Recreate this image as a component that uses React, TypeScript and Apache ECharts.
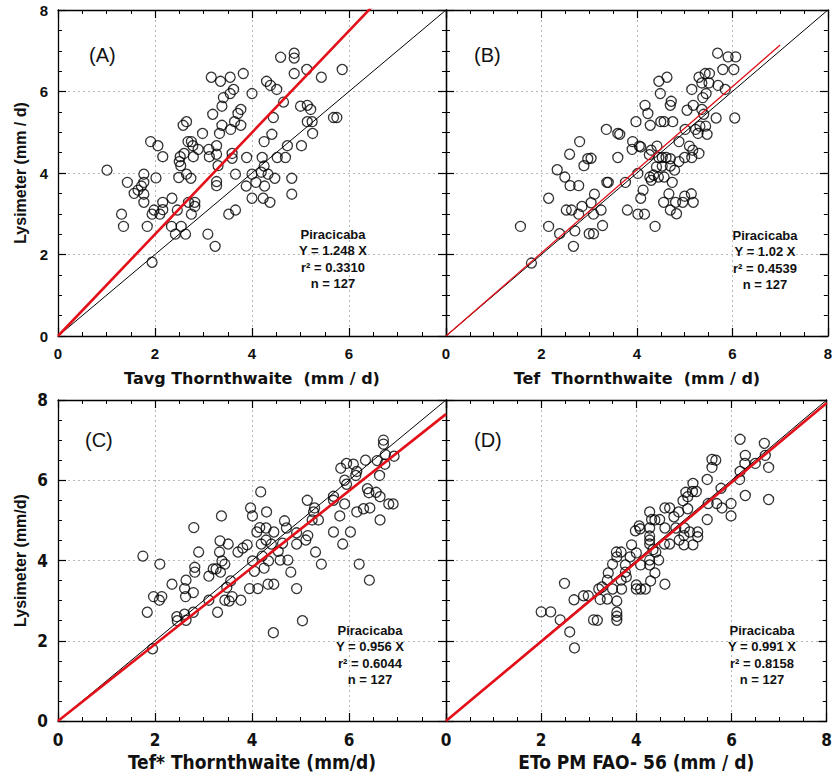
import React, { useEffect, useRef } from 'react';
import * as echarts from 'echarts';

// ---------- data ----------
const pointsA: [number, number][] = [
  [1.01,4.07],[1.43,3.77],[1.31,2.99],[1.35,2.69],[1.57,3.50],[1.65,3.58],[1.72,3.68],[1.77,3.97],[1.77,3.77],[1.77,3.48],
  [1.77,3.28],[1.91,4.77],[2.06,4.67],[2.02,3.88],[2.16,4.40],[1.84,2.69],[1.94,1.81],[1.98,3.09],[1.94,2.99],[2.10,2.99],
  [2.16,3.28],[2.16,3.10],[2.35,3.38],[2.34,2.69],[2.42,2.50],[2.46,3.09],[2.49,3.89],[2.50,4.28],[2.53,4.18],[2.52,4.40],
  [2.58,5.17],[2.65,5.26],[2.60,4.48],[2.65,3.97],[2.74,3.87],[2.68,4.77],[2.75,4.77],[2.78,4.67],[2.79,4.40],[2.89,4.58],
  [2.54,2.69],[2.63,2.50],[2.69,3.28],[2.82,3.28],[2.82,3.18],[2.75,2.99],[2.98,4.97],[3.11,4.58],[3.12,4.40],[3.16,6.35],
  [3.19,5.44],[3.27,4.67],[3.27,4.46],[3.30,4.18],[3.27,3.79],[3.27,3.69],[3.09,2.50],[3.24,2.20],[3.35,6.25],[3.41,5.85],
  [3.38,5.64],[3.38,5.17],[3.33,4.97],[3.55,6.35],[3.55,5.95],[3.62,6.05],[3.71,5.46],[3.77,5.56],[3.64,5.26],[3.56,5.07],
  [3.59,4.48],[3.59,4.36],[3.66,3.97],[3.52,2.99],[3.66,3.09],[3.82,6.44],[3.77,5.17],[3.89,4.38],[3.88,3.68],[4.00,5.95],
  [4.00,3.97],[4.00,3.38],[4.08,3.77],[4.21,4.38],[4.19,4.02],[4.25,4.17],[4.25,4.77],[4.23,3.38],[4.26,3.68],[4.30,6.25],
  [4.38,6.15],[4.51,6.05],[4.41,4.95],[4.44,5.36],[4.33,3.97],[4.37,3.28],[4.47,3.87],[4.52,4.38],[4.65,5.74],[4.59,6.84],
  [4.69,4.38],[4.73,4.67],[4.82,3.87],[4.82,3.48],[4.87,6.94],[4.87,6.82],[4.87,6.44],[5.02,4.67],[5.00,5.64],[5.13,6.54],
  [5.14,5.66],[5.21,5.56],[5.14,5.26],[5.24,5.26],[5.25,4.97],[5.43,6.35],[5.68,5.36],[5.75,5.36],[5.86,6.54]
];

const pointsB: [number, number][] = [
  [5.69,6.94],[5.91,6.85],[6.07,6.85],[5.80,6.54],[6.03,6.54],[5.30,6.35],[5.43,6.44],[5.52,6.44],[5.36,6.21],[5.51,6.21],
  [5.70,6.15],[5.85,6.05],[5.15,6.05],[5.45,5.95],[5.38,5.85],[4.63,6.35],[4.46,6.25],[4.49,5.95],[4.72,5.76],[4.70,5.66],
  [4.17,5.66],[4.23,5.46],[5.05,5.54],[5.18,5.66],[5.36,5.56],[5.40,5.44],[3.98,5.26],[4.50,5.26],[4.57,5.26],[4.75,5.26],
  [5.66,5.35],[6.05,5.35],[3.36,5.07],[3.60,4.97],[3.64,4.95],[4.28,5.17],[5.01,5.07],[5.23,5.07],[5.32,5.15],[5.44,5.15],
  [5.28,4.97],[5.47,4.95],[2.80,4.77],[3.91,4.77],[3.90,4.58],[4.05,4.66],[4.08,4.64],[4.30,4.56],[4.26,4.45],[4.42,4.66],
  [4.88,4.77],[5.10,4.66],[5.17,4.56],[5.30,4.48],[2.59,4.46],[2.97,4.35],[3.04,4.36],[2.89,4.18],[3.60,4.38],[4.46,4.38],
  [4.53,4.38],[4.61,4.38],[4.70,4.35],[5.00,4.38],[5.15,4.38],[4.41,4.15],[4.53,4.17],[4.70,4.17],[4.88,4.28],[4.79,4.07],
  [2.33,4.08],[2.49,3.90],[2.60,3.69],[2.78,3.69],[3.37,3.77],[3.40,3.77],[3.76,3.77],[4.02,3.99],[4.27,3.90],[4.35,3.95],
  [4.30,3.82],[4.45,3.90],[4.57,3.90],[4.74,3.77],[4.13,3.58],[4.08,3.38],[4.67,3.49],[4.56,3.28],[4.81,3.28],[4.96,3.28],
  [5.14,3.49],[5.18,3.28],[5.00,3.43],[4.70,3.09],[4.83,3.00],[3.11,3.48],[3.04,3.27],[2.85,3.18],[3.25,3.09],[3.09,2.99],
  [2.52,3.09],[2.63,3.09],[2.78,2.99],[3.80,3.09],[4.02,2.99],[4.16,2.99],[4.38,2.69],[3.28,2.71],[3.00,2.51],[3.09,2.51],
  [2.70,2.58],[2.38,2.51],[2.67,2.20],[1.56,2.69],[1.79,1.79],[2.15,2.69],[2.15,3.38]
];

const pointsC: [number, number][] = [
  [1.75,4.11],[2.10,3.91],[1.84,2.71],[1.97,3.10],[2.14,3.10],[2.09,3.01],[1.95,1.80],[2.35,3.41],[2.45,2.60],[2.46,2.50],
  [2.61,2.66],[2.64,2.51],[2.61,3.30],[2.64,3.51],[2.63,3.10],[2.79,3.20],[2.79,2.71],[2.80,4.82],[2.82,3.83],[2.82,3.71],
  [2.90,4.21],[3.11,3.61],[3.11,3.01],[3.20,3.79],[3.26,3.79],[3.35,3.71],[3.37,5.11],[3.29,2.71],[3.33,4.21],[3.34,4.49],
  [3.38,3.99],[3.44,3.91],[3.44,3.01],[3.51,4.41],[3.56,3.49],[3.48,3.33],[3.59,3.10],[3.53,2.99],[3.77,3.01],[3.71,4.21],
  [3.81,4.31],[3.90,4.39],[3.97,5.31],[4.01,5.11],[4.01,3.99],[3.95,3.30],[4.10,4.71],[4.05,3.73],[4.12,3.30],[4.16,4.82],
  [4.18,5.71],[4.19,4.41],[4.21,4.11],[4.25,3.81],[4.30,5.21],[4.29,4.81],[4.29,4.51],[4.34,3.99],[4.33,3.41],[4.45,4.71],
  [4.40,4.41],[4.45,3.41],[4.44,2.20],[4.54,4.23],[4.58,4.01],[4.63,4.43],[4.67,4.99],[4.71,4.81],[4.74,4.01],[4.80,3.71],
  [4.92,4.41],[4.92,4.69],[4.92,3.30],[5.04,2.50],
  [6.71,7.00],[6.71,6.90],[6.75,6.64],[6.93,6.60],[6.58,6.49],[6.74,6.40],[6.34,6.50],[6.09,6.40],[5.95,6.42],[5.83,6.30],
  [6.16,6.22],[6.14,6.12],[5.91,6.00],[5.95,5.90],[6.63,6.12],[6.38,5.79],[6.41,5.69],[6.56,5.70],[6.64,5.59],[6.82,5.41],
  [6.91,5.41],[6.30,5.29],[6.43,5.31],[6.16,5.21],[6.64,5.01],[5.68,5.60],[5.68,5.50],[5.91,5.41],[5.81,5.11],[5.14,5.50],
  [5.29,5.31],[5.27,5.21],[5.24,5.01],[5.37,5.01],[5.15,4.62],[5.11,4.51],[5.68,4.71],[6.03,4.71],[5.87,4.41],[5.31,4.21],
  [5.43,3.91],[6.21,3.91],[6.42,3.51]
];

const pointsD: [number, number][] = [
  [6.18,7.02],[6.69,6.92],[6.29,6.62],[6.71,6.62],[6.28,6.42],[6.50,6.42],[6.78,6.32],[6.18,6.22],[6.17,6.02],[6.29,5.62],
  [6.78,5.52],[5.59,6.52],[5.67,6.50],[5.59,6.32],[5.49,6.02],[5.78,5.80],[5.19,5.92],[5.04,5.70],[5.18,5.72],[5.26,5.72],
  [5.08,5.59],[4.98,5.49],[5.08,5.29],[4.89,5.21],[5.51,5.42],[5.69,5.42],[5.80,5.31],[5.99,5.42],[5.99,5.11],[5.49,5.02],
  [4.60,5.31],[4.70,5.31],[4.79,5.09],[4.49,5.02],[4.28,5.21],[4.32,5.02],[4.39,5.01],[4.08,4.79],[4.28,4.81],[4.60,4.81],
  [4.83,4.81],[5.01,4.81],[5.12,4.71],[5.29,4.71],[5.29,4.59],[5.00,4.62],[4.90,4.51],[5.00,4.39],[5.19,4.39],[4.70,4.41],
  [4.59,4.41],[4.28,4.61],[4.28,4.51],[4.28,4.41],[4.35,4.27],[4.41,4.21],[3.90,4.39],[4.00,4.19],[3.58,4.21],[3.68,4.21],
  [3.59,4.09],[3.50,3.91],[3.87,4.09],[4.09,3.89],[4.28,4.01],[4.28,3.89],[4.47,4.01],[4.39,3.69],[3.77,3.89],[3.77,3.71],
  [3.79,3.59],[3.68,3.51],[3.41,3.69],[3.39,3.51],[3.50,3.29],[3.69,3.29],[3.28,3.34],[3.21,3.29],[4.00,3.39],[4.00,3.29],
  [4.09,3.29],[4.19,3.29],[4.30,3.49],[4.60,3.41],[3.24,3.03],[3.39,3.04],[3.59,2.99],[3.59,2.71],[3.59,2.61],[3.59,2.51],
  [3.18,2.51],[2.00,2.72],[2.20,2.72],[2.40,2.52],[2.60,2.22],[2.70,1.82],[2.49,3.43],[2.69,3.02],[2.89,3.12],[2.99,3.12],
  [3.10,2.52],[3.98,4.74],[4.06,4.86]
];

const panelPoints = [pointsA, pointsB, pointsC, pointsD];
const panelLabels = ['(A)', '(B)', '(C)', '(D)'];
const xTitles = ['Tavg Thornthwaite  (mm / d)', 'Tef  Thornthwaite  (mm / d)', 'Tef* Thornthwaite (mm/d)', 'ETo PM FAO- 56 (mm / d)'];
const yTitles = ['Lysimeter (mm / d)', '', 'Lysimeter (mm/d)', ''];
const station = 'Piracicaba';
const slopeLabels = ['1.248', '1.02', '0.956', '0.991'];
const slopes = [1.248, 1.02, 0.956, 0.991];
const r2Values = ['0.3310', '0.4539', '0.6044', '0.8158'];
const nValues = [127, 127, 127, 127];
const fitEndX = [8, 7, 8, 8];
const axisMin = 0;
const axisMax = 8;
const axisStep = 2;

// ---------- layout / style ----------
const grids = [
  { left: 58, top: 10, width: 388, height: 326 },
  { left: 446, top: 10, width: 387, height: 326 },
  { left: 58, top: 400, width: 388, height: 321 },
  { left: 446, top: 400, width: 387, height: 321 },
];
const annot = [
  { x: 333, y: 234 },
  { x: 765, y: 235 },
  { x: 370, y: 630 },
  { x: 762, y: 630 },
];
const labelPos = [
  { x: 89, y: 45 },
  { x: 474, y: 45 },
  { x: 85, y: 430 },
  { x: 474, y: 430 },
];
const ARIAL = '"Liberation Sans", Arial, sans-serif';
const WIDE = '"DejaVu Sans", "Liberation Sans", sans-serif';
const NARROW = '"Liberation Sans Narrow", "DejaVu Sans Condensed", "Liberation Sans", sans-serif';

function buildOption() {
  const xAxis: any[] = [];
  const yAxis: any[] = [];
  const series: any[] = [];
  const graphic: any[] = [];

  for (let g = 0; g < 4; g++) {
    const narrow = g >= 2;
    const rightCol = g % 2 === 1;
    const tickCommon = {
      axisLine: { show: true, onZero: false, lineStyle: { color: '#000', width: 1.3 } },
      axisTick: { show: true, inside: true, length: 8, lineStyle: { color: '#000', width: 1.2 } },
      minorTick: { show: true, splitNumber: 4, length: 4, lineStyle: { color: '#000', width: 1 } },
    };
    const labelStyle = {
      color: '#111',
      fontWeight: 'bold',
      fontFamily: narrow ? NARROW : ARIAL,
      fontSize: narrow ? 17 : 15,
    };
    xAxis.push({
      type: 'value', gridIndex: g, min: axisMin, max: axisMax, interval: axisStep, position: 'bottom',
      ...tickCommon,
      axisLabel: {
        show: true, margin: 10, ...labelStyle,
        formatter: (v: number) => (!rightCol && v === axisMax ? '' : String(v)),
      },
      splitLine: { show: true, lineStyle: { color: '#b8b8b8', type: [2, 3], width: 1 } },
      name: xTitles[g], nameLocation: 'middle', nameGap: narrow ? 31 : 34,
      nameTextStyle: {
        color: '#111', fontWeight: 'bold', fontFamily: narrow ? NARROW : WIDE, fontSize: narrow ? 19 : 16,
      },
    });
    xAxis.push({
      type: 'value', gridIndex: g, min: axisMin, max: axisMax, interval: axisStep, position: 'top',
      ...tickCommon, axisLabel: { show: false }, splitLine: { show: false },
    });
    yAxis.push({
      type: 'value', gridIndex: g, min: axisMin, max: axisMax, interval: axisStep, position: 'left',
      ...tickCommon,
      axisLabel: { show: !rightCol, margin: 10, ...labelStyle },
      splitLine: { show: true, lineStyle: { color: '#b8b8b8', type: [2, 3], width: 1 } },
      name: yTitles[g], nameLocation: 'middle', nameGap: 30, nameRotate: 90,
      nameTextStyle: { color: '#111', fontWeight: 'bold', fontFamily: ARIAL, fontSize: 16 },
    });
    yAxis.push({
      type: 'value', gridIndex: g, min: axisMin, max: axisMax, interval: axisStep, position: 'right',
      ...tickCommon, axisLabel: { show: false }, splitLine: { show: false },
    });

    series.push({
      type: 'scatter', xAxisIndex: 2 * g, yAxisIndex: 2 * g,
      data: panelPoints[g], symbol: 'circle', symbolSize: 10,
      itemStyle: { color: 'rgba(0,0,0,0)', borderColor: '#000', borderWidth: 1.3 },
      z: 3,
    });
    series.push({
      type: 'line', xAxisIndex: 2 * g, yAxisIndex: 2 * g,
      data: [[axisMin, axisMin], [axisMax, axisMax]], showSymbol: false, symbol: 'none',
      lineStyle: { color: '#000', width: 1 }, z: 4, clip: true,
    });
    series.push({
      type: 'line', xAxisIndex: 2 * g, yAxisIndex: 2 * g,
      data: [[0, 0], [fitEndX[g], slopes[g] * fitEndX[g]]], showSymbol: false, symbol: 'none',
      lineStyle: { color: '#e3101a', width: g === 1 ? 1.3 : 2.6 }, z: 5, clip: true,
    });

    const lines = [
      station,
      `Y = ${slopeLabels[g]} X`,
      `r² = ${r2Values[g]}`,
      `n = ${nValues[g]}`,
    ];
    const offs = [0, 16, 33, 49];
    lines.forEach((t, i) => {
      graphic.push({
        type: 'text', x: annot[g].x, y: annot[g].y + offs[i], z: 10,
        style: {
          text: t, fill: '#111', font: `bold 13px ${ARIAL}`,
          align: 'center', verticalAlign: 'middle',
          textAlign: 'center', textVerticalAlign: 'middle',
        },
      });
    });
    graphic.push({
      type: 'text', x: labelPos[g].x, y: labelPos[g].y, z: 10,
      style: { text: panelLabels[g], fill: '#111', font: `20px ${ARIAL}` },
    });
  }

  return {
    animation: false,
    backgroundColor: '#fff',
    grid: grids.map((g) => ({ ...g, containLabel: false })),
    xAxis,
    yAxis,
    series,
    graphic,
  };
}

export default function App() {
  const ref = useRef<HTMLDivElement>(null);
  useEffect(() => {
    if (!ref.current) return;
    const chart = echarts.init(ref.current, undefined, { renderer: 'svg' });
    chart.setOption(buildOption() as any);
    return () => chart.dispose();
  }, []);
  return (
    <div
      ref={ref}
      style={{ position: 'absolute', left: 0, top: 0, width: 835, height: 777, background: '#fff' }}
    />
  );
}
